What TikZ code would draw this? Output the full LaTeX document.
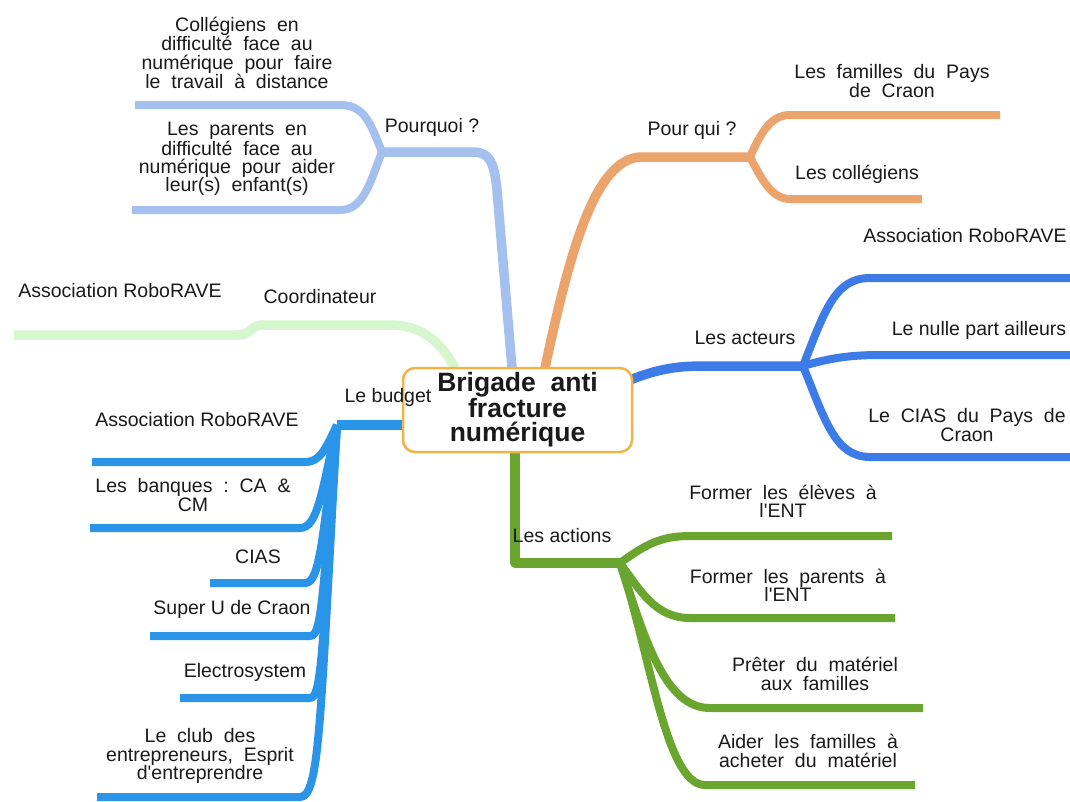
\documentclass[tikz,border=0pt]{standalone}
\usepackage{fontspec}
\setmainfont{Liberation Sans}
\definecolor{cpq}{HTML}{A3C0EE}
\definecolor{cqui}{HTML}{EBA46B}
\definecolor{cact}{HTML}{3D7BE6}
\definecolor{cacn}{HTML}{6AA62F}
\definecolor{cbud}{HTML}{2A95E8}
\definecolor{ccoo}{HTML}{D6F6CE}
\definecolor{cbox}{HTML}{F1B443}
\definecolor{ctxt}{HTML}{1A1A1A}
\newcommand{\apo}{\textquotesingle}
\tikzset{
  lbl/.style={inner sep=0pt, align=center, text=ctxt, font=\fontsize{19.5}{18.2}\selectfont},
  mainb/.style={line width=9.5pt, line join=round},
  subb/.style={line width=8pt, line join=round},
  rootbox/.style={draw=cbox, line width=2.5pt, rounded corners=12pt, fill=white,
    minimum width=229pt, minimum height=84pt, inner sep=0pt, align=center,
    text=ctxt, font=\bfseries\fontsize{26.5}{24}\selectfont}
}
\begin{document}
\begin{tikzpicture}[x=1pt,y=-1pt]
\useasboundingbox (0,0) rectangle (1070,801);
\fill[white] (0,0) rectangle (1070,801);
% junction coordinates
\coordinate (jpq) at (382,152);
\coordinate (jqui) at (750,157);
\coordinate (jact) at (803,366);
\coordinate (jacn) at (620,563);
\coordinate (jbud) at (337,425);
\coordinate (rtop1) at (512,368);
\coordinate (rtop2) at (545,368);
\coordinate (rtop3) at (455,368);
\coordinate (rright) at (630,380);
\coordinate (rbot) at (515,452);
\coordinate (rleft) at (405,425);
% end points
\coordinate (e1) at (135,105);
\coordinate (e2) at (132,210);
\coordinate (e3) at (1000,115);
\coordinate (e4) at (922,199);
\coordinate (e5) at (1070,278);
\coordinate (e6) at (1070,355);
\coordinate (e7) at (1070,457);
\coordinate (e8) at (892,536);
\coordinate (e9) at (895,618);
\coordinate (e10) at (923,708);
\coordinate (e11) at (915,785);
\coordinate (e12) at (92,462);
\coordinate (e13) at (90,528);
\coordinate (e14) at (210,583);
\coordinate (e15) at (150,636);
\coordinate (e16) at (180,698);
\coordinate (e17) at (97,797);
\coordinate (e18) at (14,335);

% Coordinateur
\draw[ccoo, mainb] (rtop3) .. controls (440,340) and (420,325) .. (390,325) -- (262,325)
  .. controls (252,325) and (250,335) .. (238,335) -- (e18);
% Pourquoi
\draw[cpq, mainb] (rtop1) -- (497,190) .. controls (494,162) and (490,152) .. (472,152) -- (jpq);
\draw[cpq, subb] (jpq) .. controls (370,122) and (364,105) .. (340,105) -- (e1);
\draw[cpq, subb] (jpq) .. controls (370,182) and (364,210) .. (340,210) -- (e2);
% Pour qui
\draw[cqui, mainb] (rtop2) .. controls (570,250) and (595,160) .. (640,157) -- (jqui);
\draw[cqui, subb] (jqui) .. controls (762,130) and (772,115) .. (790,115) -- (e3);
\draw[cqui, subb] (jqui) .. controls (762,180) and (772,199) .. (790,199) -- (e4);
% Les acteurs
\draw[cact, mainb] (rright) .. controls (660,368) and (680,366) .. (705,366) -- (jact);
\draw[cact, subb] (jact) .. controls (825,310) and (835,278) .. (870,278) -- (e5);
\draw[cact, subb] (jact) .. controls (830,358) and (850,355) .. (880,355) -- (e6);
\draw[cact, subb] (jact) .. controls (825,420) and (835,457) .. (870,457) -- (e7);
% Les actions
\draw[cacn, mainb] (rbot) -- (515,563) -- (jacn);
\draw[cacn, subb] (jacn) .. controls (645,545) and (660,536) .. (690,536) -- (e8);
\draw[cacn, subb] (jacn) .. controls (640,590) and (655,618) .. (690,618) -- (e9);
\draw[cacn, subb] (jacn) .. controls (645,640) and (665,708) .. (710,708) -- (e10);
\draw[cacn, subb] (jacn) .. controls (650,650) and (665,785) .. (705,785) -- (e11);
% Le budget
\draw[cbud, mainb] (rleft) -- (jbud);
\draw[cbud, subb] (jbud) .. controls (325,450) and (320,462) .. (305,462) -- (e12);
\draw[cbud, subb] (jbud) .. controls (322,490) and (318,528) .. (300,528) -- (e13);
\draw[cbud, subb] (jbud) .. controls (322,540) and (320,583) .. (305,583) -- (e14);
\draw[cbud, subb] (jbud) .. controls (322,600) and (322,636) .. (310,636) -- (e15);
\draw[cbud, subb] (jbud) .. controls (322,650) and (322,698) .. (310,698) -- (e16);
\draw[cbud, subb] (jbud) .. controls (320,720) and (320,797) .. (300,797) -- (e17);

% root
\node[rootbox] (root) at (517.5,410) {Brigade\ \ anti\\fracture\\numérique};

% labels
\node[lbl] (tpq) at (432,127) {Pourquoi ?};
\node[lbl] (tcol) at (237,53) {Collégiens\ \ en\\difficulté\ \ face\ \ au\\numérique\ \ pour\ \ faire\\le\ \ travail\ \ à\ \ distance};
\node[lbl] (tpar) at (237,159) {Les\ \ parents\ \ en\\difficulté\ \ face\ \ au\\numérique\ \ pour\ \ aider\\leur(s)\ \ enfant(s)};
\node[lbl] (tqui) at (692,130) {Pour qui ?};
\node[lbl] (tfam) at (892,81) {Les\ \ familles\ \ du\ \ Pays\\de\ \ Craon};
\node[lbl] (tcolg) at (857,174) {Les collégiens};
\node[lbl] (tact) at (745,338) {Les acteurs};
\node[lbl] (tar) at (965,236) {Association RoboRAVE};
\node[lbl] (tnul) at (979,330) {Le nulle part ailleurs};
\node[lbl] (tcias) at (967,425) {Le\ \ CIAS\ \ du\ \ Pays\ \ de\\Craon};
\node[lbl] (tacn) at (562,536) {Les actions};
\node[lbl] (tfe) at (783,501) {Former\ \ les\ \ élèves\ \ à\\l\apo ENT};
\node[lbl] (tfp) at (788,585) {Former\ \ les\ \ parents\ \ à\\l\apo ENT};
\node[lbl] (tpr) at (815,674) {Prêter\ \ du\ \ matériel\\aux\ \ familles};
\node[lbl] (tai) at (808,751) {Aider\ \ les\ \ familles\ \ à\\acheter\ \ du\ \ matériel};
\node[lbl] (tbud) at (388,397) {Le budget};
\node[lbl] (tab) at (197,420) {Association RoboRAVE};
\node[lbl] (tban) at (193,495) {Les\ \ banques\ \ :\ \ CA\ \ \&\\CM};
\node[lbl] (tci) at (258,557) {CIAS};
\node[lbl] (tsu) at (232,609) {Super U de Craon};
\node[lbl] (tel) at (245,672) {Electrosystem};
\node[lbl] (tclub) at (200,756) {Le\ \ club\ \ des\\entrepreneurs,\ \ Esprit\\d\apo entreprendre};
\node[lbl] (tcoo) at (320,297) {Coordinateur};
\node[lbl] (tal) at (120,291) {Association RoboRAVE};
\end{tikzpicture}
\end{document}
